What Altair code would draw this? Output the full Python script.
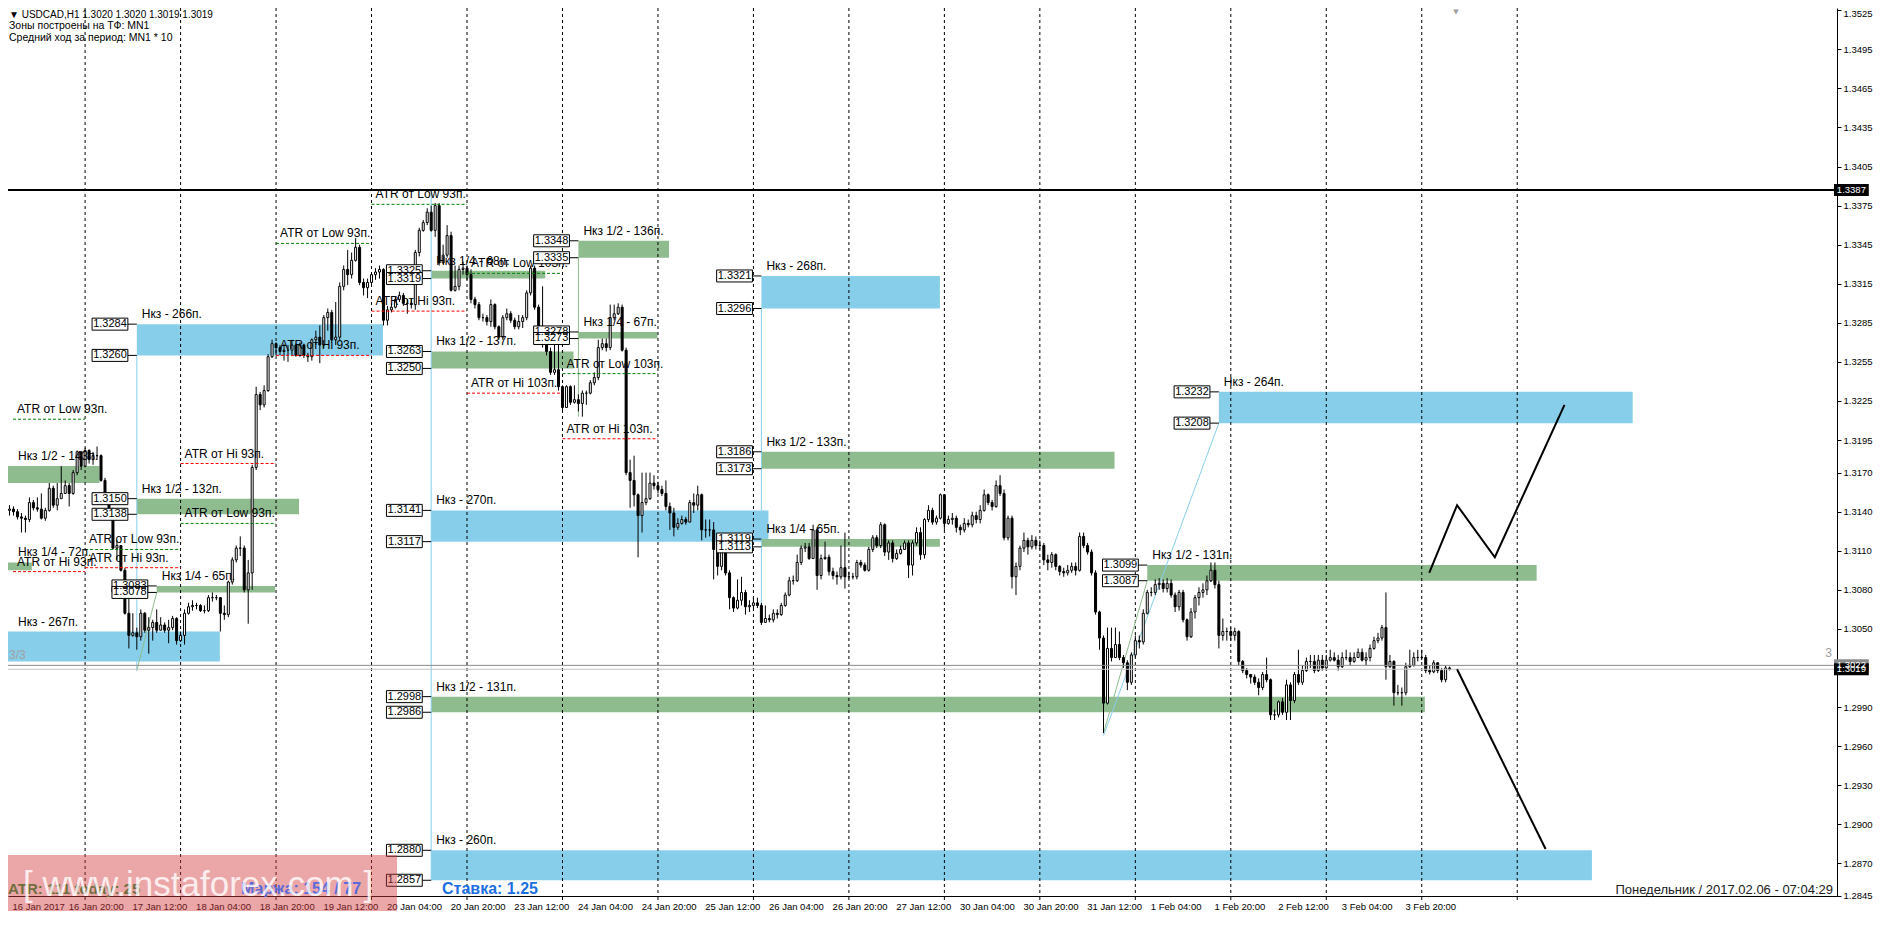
import json
import altair as alt
import pandas as pd

# ---------------- data ----------------
first_open = 1.3134
close = [
    1.3141, 1.3142, 1.3140, 1.3136, 1.3135, 1.3134, 1.3147, 1.3143, 1.3142, 1.3135,
    1.3141, 1.3158, 1.3145, 1.3150, 1.3154, 1.3160, 1.3154, 1.3170, 1.3186, 1.3175,
    1.3187, 1.3180, 1.3183, 1.3183, 1.3164, 1.3154, 1.3141, 1.3112, 1.3114, 1.3095,
    1.3062, 1.3045, 1.3047, 1.3044, 1.3062, 1.3049, 1.3051, 1.3055, 1.3049, 1.3053,
    1.3049, 1.3051, 1.3058, 1.3041, 1.3045, 1.3062, 1.3067, 1.3068, 1.3068, 1.3064,
    1.3064, 1.3074, 1.3074, 1.3074, 1.3062, 1.3061, 1.3086, 1.3103, 1.3112, 1.3112,
    1.3080, 1.3093, 1.3174, 1.3230, 1.3222, 1.3233, 1.3259, 1.3269, 1.3266, 1.3263,
    1.3264, 1.3264, 1.3268, 1.3260, 1.3268, 1.3260, 1.3259, 1.3272, 1.3274, 1.3268,
    1.3289, 1.3293, 1.3272, 1.3274, 1.3313, 1.3326, 1.3322, 1.3333, 1.3343, 1.3316,
    1.3312, 1.3316, 1.3322, 1.3324, 1.3326, 1.3287, 1.3295, 1.3297, 1.3303, 1.3306,
    1.3300, 1.3300, 1.3299, 1.3339, 1.3356, 1.3362, 1.3370, 1.3356, 1.3375, 1.3331,
    1.3337, 1.3352, 1.3310, 1.3313, 1.3326, 1.3327, 1.3322, 1.3303, 1.3299, 1.3289,
    1.3289, 1.3286, 1.3299, 1.3282, 1.3274, 1.3289, 1.3292, 1.3287, 1.3282, 1.3286,
    1.3289, 1.3308, 1.3327, 1.3297, 1.3280, 1.3269, 1.3263, 1.3247, 1.3249, 1.3236,
    1.3220, 1.3236, 1.3224, 1.3226, 1.3223, 1.3231, 1.3231, 1.3239, 1.3243, 1.3266,
    1.3269, 1.3266, 1.3289, 1.3292, 1.3297, 1.3264, 1.3170, 1.3164, 1.3153, 1.3137,
    1.3147, 1.3150, 1.3162, 1.3160, 1.3157, 1.3154, 1.3144, 1.3139, 1.3128, 1.3131,
    1.3134, 1.3132, 1.3147, 1.3145, 1.3153, 1.3126, 1.3126, 1.3126, 1.3111, 1.3098,
    1.3114, 1.3093, 1.3074, 1.3066, 1.3072, 1.3078, 1.3067, 1.3068, 1.3070, 1.3068,
    1.3055, 1.3058, 1.3057, 1.3062, 1.3061, 1.3068, 1.3076, 1.3087, 1.3087, 1.3101,
    1.3112, 1.3113, 1.3104, 1.3126, 1.3091, 1.3104, 1.3105, 1.3094, 1.3091, 1.3090,
    1.3097, 1.3090, 1.3090, 1.3090, 1.3101, 1.3099, 1.3095, 1.3111, 1.3120, 1.3114,
    1.3130, 1.3109, 1.3116, 1.3104, 1.3108, 1.3111, 1.3116, 1.3099, 1.3116, 1.3124,
    1.3107, 1.3134, 1.3141, 1.3132, 1.3135, 1.3153, 1.3131, 1.3134, 1.3135, 1.3128,
    1.3126, 1.3131, 1.3130, 1.3137, 1.3134, 1.3141, 1.3153, 1.3147, 1.3144, 1.3160,
    1.3154, 1.3120, 1.3135, 1.3090, 1.3098, 1.3112, 1.3118, 1.3113, 1.3118, 1.3114,
    1.3114, 1.3103, 1.3101, 1.3107, 1.3098, 1.3094, 1.3093, 1.3095, 1.3098, 1.3095,
    1.3121, 1.3114, 1.3109, 1.3093, 1.3063, 1.3043, 1.2993, 1.3035, 1.3028, 1.3038,
    1.3028, 1.3024, 1.3009, 1.3030, 1.3041, 1.3040, 1.3062, 1.3078, 1.3078, 1.3084,
    1.3085, 1.3081, 1.3085, 1.3076, 1.3067, 1.3078, 1.3057, 1.3044, 1.3063, 1.3074,
    1.3078, 1.3080, 1.3087, 1.3095, 1.3084, 1.3045, 1.3048, 1.3048, 1.3045, 1.3048,
    1.3025, 1.3018, 1.3015, 1.3013, 1.3009, 1.3005, 1.3015, 1.3011, 1.2984, 1.2984,
    1.2994, 1.2986, 1.3007, 1.2995, 1.3015, 1.3009, 1.3018, 1.3025, 1.3025, 1.3018,
    1.3026, 1.3020, 1.3026, 1.3028, 1.3026, 1.3021, 1.3028, 1.3028, 1.3025, 1.3028,
    1.3032, 1.3026, 1.3028, 1.3035, 1.3041, 1.3043, 1.3051, 1.3021, 1.3025, 1.3001,
    1.3001, 1.3001, 1.3021, 1.3022, 1.3028, 1.3028, 1.3028, 1.3018, 1.3017, 1.3024,
    1.3018, 1.3011, 1.3020, 1.3019,
]
high = [
    1.3144, 1.3145, 1.3144, 1.3142, 1.3139, 1.3137, 1.3151, 1.3149, 1.3151, 1.3154,
    1.3143, 1.3162, 1.3160, 1.3162, 1.3175, 1.3164, 1.3162, 1.3172, 1.3187, 1.3186,
    1.3189, 1.3188, 1.3186, 1.3190, 1.3184, 1.3166, 1.3155, 1.3143, 1.3118, 1.3114,
    1.3097, 1.3075, 1.3062, 1.3051, 1.3065, 1.3063, 1.3059, 1.3057, 1.3065, 1.3059,
    1.3055, 1.3057, 1.3060, 1.3059, 1.3048, 1.3065, 1.3070, 1.3072, 1.3070, 1.3069,
    1.3068, 1.3076, 1.3078, 1.3076, 1.3074, 1.3068, 1.3087, 1.3105, 1.3114, 1.3121,
    1.3114, 1.3103, 1.3176, 1.3236, 1.3232, 1.3237, 1.3261, 1.3272, 1.3270, 1.3268,
    1.3269, 1.3268, 1.3272, 1.3269, 1.3270, 1.3269, 1.3262, 1.3273, 1.3279, 1.3283,
    1.3291, 1.3296, 1.3295, 1.3301, 1.3316, 1.3329, 1.3341, 1.3339, 1.3350, 1.3345,
    1.3319, 1.3319, 1.3324, 1.3327, 1.3329, 1.3327, 1.3298, 1.3300, 1.3305, 1.3309,
    1.3308, 1.3303, 1.3303, 1.3341, 1.3358, 1.3364, 1.3373, 1.3375, 1.3377, 1.3377,
    1.3345, 1.3360, 1.3355, 1.3329, 1.3329, 1.3332, 1.3329, 1.3326, 1.3305, 1.3301,
    1.3292, 1.3291, 1.3303, 1.3300, 1.3283, 1.3291, 1.3296, 1.3294, 1.3289, 1.3291,
    1.3291, 1.3310, 1.3329, 1.3329, 1.3299, 1.3313, 1.3272, 1.3266, 1.3268, 1.3268,
    1.3237, 1.3237, 1.3237, 1.3237, 1.3230, 1.3233, 1.3233, 1.3241, 1.3247, 1.3272,
    1.3273, 1.3273, 1.3299, 1.3299, 1.3300, 1.3299, 1.3266, 1.3180, 1.3183, 1.3154,
    1.3170, 1.3170, 1.3170, 1.3168, 1.3163, 1.3160, 1.3164, 1.3147, 1.3143, 1.3135,
    1.3137, 1.3136, 1.3149, 1.3154, 1.3160, 1.3154, 1.3134, 1.3134, 1.3132, 1.3114,
    1.3118, 1.3118, 1.3095, 1.3075, 1.3088, 1.3090, 1.3080, 1.3072, 1.3074, 1.3074,
    1.3070, 1.3068, 1.3061, 1.3065, 1.3065, 1.3070, 1.3078, 1.3090, 1.3091, 1.3107,
    1.3114, 1.3116, 1.3116, 1.3130, 1.3128, 1.3107, 1.3117, 1.3107, 1.3097, 1.3094,
    1.3114, 1.3124, 1.3094, 1.3093, 1.3103, 1.3103, 1.3101, 1.3113, 1.3122, 1.3122,
    1.3132, 1.3131, 1.3118, 1.3118, 1.3111, 1.3114, 1.3118, 1.3118, 1.3118, 1.3128,
    1.3128, 1.3135, 1.3145, 1.3143, 1.3137, 1.3154, 1.3141, 1.3137, 1.3139, 1.3137,
    1.3130, 1.3135, 1.3134, 1.3140, 1.3140, 1.3145, 1.3157, 1.3154, 1.3149, 1.3164,
    1.3168, 1.3157, 1.3137, 1.3137, 1.3101, 1.3114, 1.3124, 1.3120, 1.3122, 1.3121,
    1.3118, 1.3116, 1.3107, 1.3109, 1.3108, 1.3099, 1.3097, 1.3099, 1.3101, 1.3101,
    1.3124, 1.3124, 1.3116, 1.3111, 1.3095, 1.3064, 1.3045, 1.3051, 1.3051, 1.3051,
    1.3048, 1.3030, 1.3026, 1.3032, 1.3045, 1.3045, 1.3065, 1.3080, 1.3082, 1.3088,
    1.3089, 1.3088, 1.3089, 1.3088, 1.3078, 1.3080, 1.3080, 1.3058, 1.3066, 1.3076,
    1.3082, 1.3085, 1.3091, 1.3101, 1.3101, 1.3087, 1.3058, 1.3051, 1.3051, 1.3051,
    1.3049, 1.3026, 1.3020, 1.3015, 1.3015, 1.3012, 1.3017, 1.3028, 1.3012, 1.2988,
    1.2995, 1.2997, 1.3011, 1.3009, 1.3017, 1.3034, 1.3022, 1.3028, 1.3030, 1.3030,
    1.3030, 1.3030, 1.3030, 1.3034, 1.3032, 1.3030, 1.3032, 1.3034, 1.3032, 1.3032,
    1.3035, 1.3035, 1.3032, 1.3038, 1.3044, 1.3047, 1.3053, 1.3078, 1.3030, 1.3026,
    1.3007, 1.3005, 1.3024, 1.3034, 1.3032, 1.3034, 1.3034, 1.3030, 1.3022, 1.3026,
    1.3024, 1.3020, 1.3022, 1.3021,
]
low = [
    1.3131, 1.3137, 1.3137, 1.3134, 1.3124, 1.3124, 1.3132, 1.3141, 1.3140, 1.3134,
    1.3133, 1.3140, 1.3143, 1.3141, 1.3151, 1.3154, 1.3144, 1.3153, 1.3168, 1.3172,
    1.3174, 1.3177, 1.3176, 1.3180, 1.3163, 1.3153, 1.3140, 1.3111, 1.3103, 1.3094,
    1.3061, 1.3035, 1.3044, 1.3034, 1.3041, 1.3047, 1.3031, 1.3041, 1.3047, 1.3049,
    1.3047, 1.3039, 1.3049, 1.3038, 1.3040, 1.3038, 1.3061, 1.3064, 1.3065, 1.3063,
    1.3062, 1.3063, 1.3071, 1.3072, 1.3048, 1.3057, 1.3059, 1.3084, 1.3101, 1.3106,
    1.3078, 1.3054, 1.3080, 1.3172, 1.3218, 1.3220, 1.3232, 1.3258, 1.3260, 1.3260,
    1.3256, 1.3255, 1.3260, 1.3259, 1.3259, 1.3258, 1.3255, 1.3256, 1.3268, 1.3254,
    1.3266, 1.3279, 1.3270, 1.3268, 1.3272, 1.3310, 1.3314, 1.3319, 1.3332, 1.3314,
    1.3306, 1.3304, 1.3314, 1.3318, 1.3319, 1.3283, 1.3283, 1.3293, 1.3296, 1.3301,
    1.3298, 1.3292, 1.3296, 1.3295, 1.3336, 1.3355, 1.3360, 1.3355, 1.3351, 1.3329,
    1.3332, 1.3335, 1.3309, 1.3309, 1.3310, 1.3322, 1.3318, 1.3300, 1.3296, 1.3287,
    1.3286, 1.3283, 1.3282, 1.3280, 1.3272, 1.3272, 1.3287, 1.3285, 1.3280, 1.3280,
    1.3281, 1.3287, 1.3306, 1.3295, 1.3276, 1.3266, 1.3260, 1.3245, 1.3245, 1.3233,
    1.3218, 1.3220, 1.3222, 1.3223, 1.3217, 1.3213, 1.3222, 1.3230, 1.3237, 1.3241,
    1.3264, 1.3263, 1.3264, 1.3287, 1.3291, 1.3263, 1.3168, 1.3143, 1.3144, 1.3105,
    1.3124, 1.3145, 1.3149, 1.3157, 1.3154, 1.3152, 1.3141, 1.3126, 1.3121, 1.3126,
    1.3130, 1.3130, 1.3132, 1.3139, 1.3141, 1.3118, 1.3120, 1.3121, 1.3088, 1.3091,
    1.3095, 1.3091, 1.3065, 1.3063, 1.3065, 1.3068, 1.3061, 1.3063, 1.3066, 1.3066,
    1.3053, 1.3055, 1.3055, 1.3055, 1.3058, 1.3060, 1.3067, 1.3075, 1.3084, 1.3086,
    1.3099, 1.3109, 1.3103, 1.3104, 1.3080, 1.3088, 1.3103, 1.3091, 1.3088, 1.3084,
    1.3088, 1.3081, 1.3088, 1.3088, 1.3088, 1.3097, 1.3094, 1.3094, 1.3109, 1.3112,
    1.3112, 1.3106, 1.3103, 1.3101, 1.3103, 1.3107, 1.3111, 1.3089, 1.3091, 1.3114,
    1.3103, 1.3104, 1.3132, 1.3130, 1.3130, 1.3134, 1.3126, 1.3130, 1.3130, 1.3124,
    1.3122, 1.3124, 1.3128, 1.3128, 1.3131, 1.3131, 1.3140, 1.3145, 1.3141, 1.3143,
    1.3152, 1.3118, 1.3118, 1.3081, 1.3076, 1.3095, 1.3109, 1.3107, 1.3111, 1.3111,
    1.3111, 1.3099, 1.3095, 1.3097, 1.3095, 1.3091, 1.3090, 1.3091, 1.3093, 1.3091,
    1.3094, 1.3112, 1.3107, 1.3091, 1.3061, 1.3034, 1.2970, 1.2992, 1.3025, 1.3028,
    1.3026, 1.3020, 1.3003, 1.3007, 1.3028, 1.3035, 1.3038, 1.3061, 1.3075, 1.3076,
    1.3080, 1.3078, 1.3078, 1.3074, 1.3063, 1.3064, 1.3055, 1.3041, 1.3043, 1.3058,
    1.3068, 1.3074, 1.3076, 1.3086, 1.3081, 1.3035, 1.3041, 1.3041, 1.3041, 1.3041,
    1.3022, 1.3016, 1.3012, 1.3008, 1.3007, 1.2999, 1.3003, 1.3009, 1.2980, 1.2980,
    1.2982, 1.2984, 1.2980, 1.2980, 1.2993, 1.3007, 1.3007, 1.3017, 1.3020, 1.3016,
    1.3017, 1.3018, 1.3022, 1.3025, 1.3025, 1.3018, 1.3020, 1.3026, 1.3022, 1.3024,
    1.3028, 1.3025, 1.3022, 1.3025, 1.3034, 1.3039, 1.3041, 1.3011, 1.3020, 1.2991,
    1.2999, 1.2991, 1.2999, 1.3020, 1.3021, 1.3025, 1.3026, 1.3016, 1.3015, 1.3016,
    1.3016, 1.3009, 1.3009, 1.3018,
]

x_label_text = [
    "16 Jan 2017", "16 Jan 20:00", "17 Jan 12:00", "18 Jan 04:00", "18 Jan 20:00",
    "19 Jan 12:00", "20 Jan 04:00", "20 Jan 20:00", "23 Jan 12:00", "24 Jan 04:00",
    "24 Jan 20:00", "25 Jan 12:00", "26 Jan 04:00", "26 Jan 20:00", "27 Jan 12:00",
    "30 Jan 04:00", "30 Jan 20:00", "31 Jan 12:00", "1 Feb 04:00", "1 Feb 20:00",
    "2 Feb 12:00", "3 Feb 04:00", "3 Feb 20:00",
]
y_tick_values = [1.3525, 1.3495, 1.3465, 1.3435, 1.3405, 1.3375, 1.3345, 1.3315,
                 1.3285, 1.3255, 1.3225, 1.3195, 1.3170, 1.3140, 1.3110, 1.3080,
                 1.3050, 1.2990, 1.2960, 1.2930, 1.2900, 1.2870, 1.2845]

level_price = 1.3387
ask_price = 1.3022
bid_price = 1.3019

zone_text = ["Нкз - 266п.", "Нкз 1/2 - 143п.", "Нкз 1/2 - 132п.", "Нкз 1/4 - 65п.",
             "Нкз 1/4 - 72п.", "Нкз - 267п.", "Нкз 1/2 - 137п.", "Нкз - 270п.",
             "Нкз 1/2 - 131п.", "Нкз - 260п.", "Нкз 1/4 - 68п.", "Нкз 1/2 - 136п.",
             "Нкз 1/4 - 67п.", "Нкз - 268п.", "Нкз 1/2 - 133п.", "Нкз 1/4 - 65п.",
             "Нкз - 264п.", "Нкз 1/2 - 131п."]
zone_top = [1.3284, 1.3175, 1.3150, 1.3083, 1.3101, 1.3048, 1.3263, 1.3141, 1.2998,
            1.2880, 1.3325, 1.3348, 1.3278, 1.3321, 1.3186, 1.3119, 1.3232, 1.3099]
zone_bottom = [1.3260, 1.3162, 1.3138, 1.3078, 1.3095, 1.3025, 1.3250, 1.3117, 1.2986,
               1.2857, 1.3319, 1.3335, 1.3273, 1.3296, 1.3173, 1.3113, 1.3208, 1.3087]
zone_kind = ["blue", "green", "green", "green", "green", "blue", "green", "blue", "green",
             "blue", "green", "green", "green", "blue", "green", "green", "blue", "green"]
zone_start_bar = [33, -1, 33, 38, -1, -1, 107, 107, 107, 107, 107, 144, 144, 190, 190, 190, 305, 287]
zone_end_bar = [95, 23.75, 73.9, 67.9, 6.75, 54, 142.9, 191.9, 356.9, 398.9, 135.8,
                166.9, 164, 235, 278.9, 235, 409.15, 385]

atr_text = ["ATR от Low 93п.", "ATR от Hi 93п.", "ATR от Low 93п.", "ATR от Hi 93п.",
            "ATR от Low 93п.", "ATR от Hi 93п.", "ATR от Low 103п.", "ATR от Hi 103п.",
            "ATR от Low 103п.", "ATR от Hi 103п.", "ATR от Low 93п.", "ATR от Low 93п.",
            "ATR от Hi 93п.", "ATR от Hi 93п."]
atr_price = [1.3211, 1.3177, 1.3346, 1.3260, 1.3376, 1.3294, 1.3323, 1.3231, 1.3246,
             1.3196, 1.3131, 1.3111, 1.3097, 1.3094]
atr_day = [-1, 1, 2, 2, 3, 3, 4, 4, 5, 5, 1, 0, 0, -1]   # day column index

trend_from_bar = [33, 33, 107, 144, 190, 276, 276]
trend_to_bar = [33, 38, 107, 144, 190, 305, 287]
trend_from_price = [1.3260, 1.3018, 1.3385, 1.3335, 1.3296, 1.2968, 1.2970]
trend_to_price = [1.3018, 1.3078, 1.2857, 1.3213, 1.3054, 1.3208, 1.3087]
trend_kind = ["blue", "green", "blue", "green", "blue", "blue", "green"]

proj_up_bar = [358, 365, 374.5, 392]
proj_up_price = [1.3093, 1.3145, 1.3105, 1.3222]
proj_dn_bar = [365, 387.25]
proj_dn_price = [1.3019, 1.2881]

# ---------------- layout ----------------
PLOT_W, PLOT_H = 1829, 888
X_DOM = [2.0, 459.25]
Y_DOM = [1.284492, 1.352674]
PX = PLOT_H / (Y_DOM[1] - Y_DOM[0])          # px per price unit
SX = PLOT_W / (X_DOM[1] - X_DOM[0])          # px per bar slot
OFF = 0.125                                   # candle centre offset inside a slot
GRID0, DAY = 20.125, 24                       # vertical grid (day) spacing in slots
LABEL0, LABEL_STEP = 15.9, 16
FONT = "Liberation Sans"
COL = {"blue": "#87CEEB", "green": "#8FBC8F"}

xs = alt.Scale(domain=X_DOM, nice=False, zero=False)
ys = alt.Scale(domain=Y_DOM, nice=False, zero=False)

label_slots = [1.75] + [LABEL0 + LABEL_STEP * k for k in range(len(x_label_text) - 1)]
label_expr = "%s[round((datum.value - %s) / %s) + 1]" % (
    json.dumps(x_label_text, ensure_ascii=False), LABEL0, LABEL_STEP)

x_axis = alt.Axis(values=label_slots, labelExpr=label_expr, labelAlign="left",
                  labelBaseline="top", ticks=False, grid=False, domain=True,
                  domainColor="black", labelFont=FONT, labelFontSize=9.5,
                  labelColor="black", labelPadding=5, labelFlush=False,
                  labelOverlap=False, title=None, orient="bottom")
y_axis = alt.Axis(values=y_tick_values, format=".4f", orient="right", ticks=True,
                  tickSize=4, tickColor="black", grid=False, domain=True,
                  domainColor="black", labelFont=FONT, labelFontSize=9.5,
                  labelColor="black", labelPadding=2, labelOverlap=False,
                  labelFlush=False, title=None,
                  labelOffset={"condition": {"test": "datum.value > 1.352", "value": 3},
                               "value": 0})


def X(f):
    return alt.X(f, type="quantitative", scale=xs, axis=x_axis)


def Y(f):
    return alt.Y(f, type="quantitative", scale=ys, axis=y_axis)


def slot(b):
    return b + OFF


# candles
opens = [first_open] + close[:-1]
cdf = pd.DataFrame({
    "x": [slot(i) for i in range(len(close))],
    "open": opens, "close": close, "high": high, "low": low,
    "fill": ["white" if c >= o else "black" for o, c in zip(opens, close)],
})

# grid
grid_slots = [GRID0 + DAY * k for k in range(16)]
gdf = pd.DataFrame({"x": grid_slots})
tdf = pd.DataFrame({"x": grid_slots, "y": [Y_DOM[0]] * 16, "y2": [Y_DOM[0] - 4 / PX] * 16})

# zones
zl = [slot(b) if b >= 0 else 0 for b in zone_start_bar]
zdf = pd.DataFrame({
    "x": zl, "x2": zone_end_bar, "top": zone_top, "bottom": zone_bottom,
    "c": [COL[k] for k in zone_kind], "t": zone_text,
    "lx": [max(v, X_DOM[0]) for v in zl],
})

# price boxes
rows = []
for i in range(len(zone_text)):
    if zone_start_bar[i] >= 0:
        cx = zl[i] - 27 / SX
        for p in (zone_top[i], zone_bottom[i]):
            rows.append({"x1": cx - 18 / SX, "x2": cx + 18 / SX, "cx": cx, "zl": zl[i],
                         "y1": p - 6 / PX, "y2": p + 6 / PX, "p": p, "t": "%.4f" % p})
bdf = pd.DataFrame(rows)

# ATR
adf = pd.DataFrame({
    "x": [max(GRID0 + DAY * d, X_DOM[0]) for d in atr_day],
    "x2": [GRID0 + DAY * (d + 1) for d in atr_day],
    "p": atr_price, "t": atr_text,
    "c": ["#008000" if "Low" in t else "#FF0000" for t in atr_text],
})

# trend lines
trdf = pd.DataFrame({
    "x": [slot(b) for b in trend_from_bar], "x2": [slot(b) for b in trend_to_bar],
    "y": trend_from_price, "y2": trend_to_price, "c": [COL[k] for k in trend_kind],
})

pdf = pd.DataFrame({
    "x": proj_up_bar + proj_dn_bar, "p": proj_up_price + proj_dn_price,
    "path": ["up"] * len(proj_up_bar) + ["dn"] * len(proj_dn_bar),
    "i": list(range(len(proj_up_bar))) + list(range(len(proj_dn_bar))),
})

hdf = pd.DataFrame({"p": [level_price, ask_price, bid_price],
                    "c": ["black", "#8c8c8c", "#c4c4c4"], "w": [2, 1, 1]})

tag_x1, tag_x2 = X_DOM[1] + 2 / SX, X_DOM[1] + 37 / SX
tagdf = pd.DataFrame({"p": [level_price, ask_price, bid_price],
                      "c": ["black", "#8c8c8c", "black"]})
tagdf["x1"], tagdf["x2"] = tag_x1, tag_x2
tagdf["cx"] = (tag_x1 + tag_x2) / 2
tagdf["y1"] = tagdf["p"] - 6 / PX
tagdf["y2"] = tagdf["p"] + 6 / PX
tagdf["t"] = ["%.4f" % v for v in tagdf["p"]]

# ---------------- layers ----------------
zones = alt.Chart(zdf).mark_rect().encode(
    x=X("x"), x2="x2", y=Y("top"), y2="bottom", color=alt.Color("c:N", scale=None))

grid = alt.Chart(gdf).mark_rule(color="black", strokeDash=[3, 3], strokeWidth=1).encode(
    x=X("x"))

xticks = alt.Chart(tdf).mark_rule(color="black").encode(x=X("x"), y=Y("y"), y2="y2")

trends = alt.Chart(trdf).mark_rule(strokeWidth=1).encode(
    x=X("x"), x2="x2", y=Y("y"), y2="y2", color=alt.Color("c:N", scale=None))

wicks = alt.Chart(cdf).mark_rule(color="black", strokeWidth=1).encode(
    x=X("x"), y=Y("low"), y2="high")

bodies = alt.Chart(cdf).mark_bar(size=2, stroke="black", strokeWidth=1).encode(
    x=X("x"), y=Y("open"), y2="close", color=alt.Color("fill:N", scale=None))

hlines = alt.Chart(hdf).mark_rule().encode(
    y=Y("p"), color=alt.Color("c:N", scale=None),
    strokeWidth=alt.StrokeWidth("w:Q", scale=None))

atr_lines = alt.Chart(adf).mark_rule(strokeDash=[3, 2], strokeWidth=1).encode(
    x=X("x"), x2="x2", y=Y("p"), color=alt.Color("c:N", scale=None))
atr_texts = alt.Chart(adf).mark_text(align="left", baseline="bottom", dx=4, dy=-3,
                                     font=FONT, fontSize=12, color="black").encode(
    x=X("x"), y=Y("p"), text="t:N")

connectors = alt.Chart(bdf).mark_rule(color="black", strokeWidth=1).encode(
    x=X("x2"), x2="zl", y=Y("p"))
boxes = alt.Chart(bdf).mark_rect(fill="white", stroke="black", strokeWidth=1).encode(
    x=X("x1"), x2="x2", y=Y("y1"), y2="y2")
box_texts = alt.Chart(bdf).mark_text(font=FONT, fontSize=11, color="black").encode(
    x=X("cx"), y=Y("p"), text="t:N")

zone_labels = alt.Chart(zdf).mark_text(align="left", baseline="bottom", dx=5, dy=-3,
                                       font=FONT, fontSize=12, color="black").encode(
    x=X("lx"), y=Y("top"), text="t:N")

proj = alt.Chart(pdf).mark_line(color="black", strokeWidth=2).encode(
    x=X("x"), y=Y("p"), detail="path:N", order="i:Q")

tags = alt.Chart(tagdf).mark_rect().encode(
    x=X("x1"), x2="x2", y=Y("y1"), y2="y2", color=alt.Color("c:N", scale=None))
tag_texts = alt.Chart(tagdf).mark_text(font=FONT, fontSize=9.5, color="white").encode(
    x=X("cx"), y=Y("p"), text="t:N")


def txt(s, vx, vy, **kw):
    return alt.Chart(pd.DataFrame({"t": [s]})).mark_text(**kw).encode(
        x=alt.value(vx), y=alt.value(vy), text="t:N")


header = [
    txt("▼ USDCAD,H1  1.3020 1.3020 1.3019 1.3019", 1, 6.5, align="left", font=FONT,
        fontSize=10, color="black"),
    txt("Зоны построены на ТФ: MN1", 1, 18, align="left", font=FONT, fontSize=10.5,
        color="black"),
    txt("Средний ход за период: MN1 * 10", 1, 29.5, align="left", font=FONT, fontSize=10.5,
        color="black"),
    txt("▼", 1448, 4, font="DejaVu Sans", fontSize=7, color="#a0a0a0"),
    txt("3/3", 1, 647, align="left", font=FONT, fontSize=12, color="#a0a0a0"),
    txt("3", 1824, 645, align="right", font=FONT, fontSize=12, color="#a0a0a0"),
]

pink = alt.Chart(pd.DataFrame({"a": [0]})).mark_rect(color="#d33a3f", opacity=0.45).encode(
    x=alt.value(0), x2=alt.value(389), y=alt.value(847), y2=alt.value(910))

footer = [
    txt("ATR: 111  today: 25", 0, 881, align="left", font=FONT, fontSize=15,
        fontWeight="bold", color="#6e6e3c"),
    txt("Маржа: 154 / 77", 233, 881, align="left", font=FONT, fontSize=16,
        fontWeight="bold", color="#5a6ad8"),
    txt("[ www.instaforex.com ]", 15, 877, align="left", font=FONT, fontSize=35,
        color="white", opacity=0.8),
    txt("Ставка: 1.25", 434, 881, align="left", font=FONT, fontSize=16,
        fontWeight="bold", color="#1c6fe0"),
    txt("Понедельник / 2017.02.06 - 07:04:29", 1825, 882, align="right", font=FONT,
        fontSize=13, color="#202020"),
]

chart = alt.layer(
    zones, grid, xticks, trends, wicks, bodies, hlines, atr_lines, atr_texts,
    connectors, boxes, box_texts, zone_labels, proj, tags, tag_texts,
    *header, pink, *footer,
).properties(
    width=PLOT_W, height=PLOT_H,
    autosize=alt.AutoSizeParams(type="none"),
    padding={"left": 0, "top": 0, "right": 40, "bottom": 15},
    background="white",
).configure_view(strokeWidth=0)

chart.save("out.html", embed_options={"renderer": "svg", "actions": False})
